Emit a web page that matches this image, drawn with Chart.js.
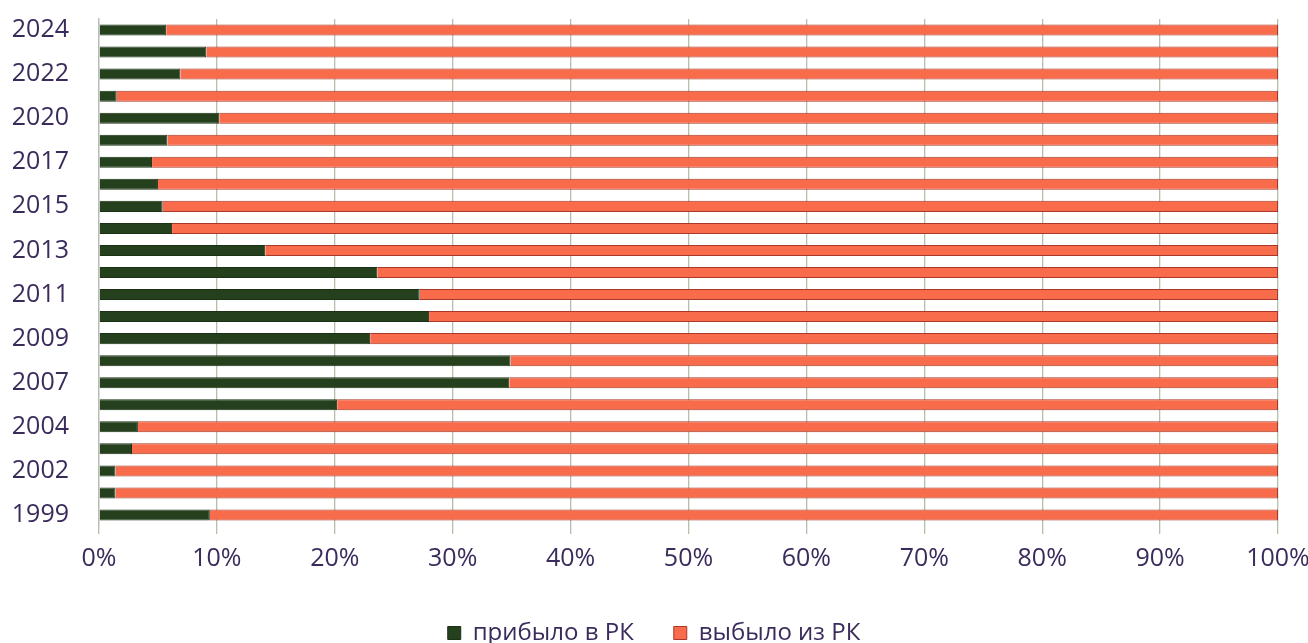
<!DOCTYPE html>
<html>
<head>
<meta charset="utf-8">
<script src="https://cdn.jsdelivr.net/npm/chart.js@4/dist/chart.umd.min.js"></script>
<style>
  html, body { margin: 0; padding: 0; background: #ffffff; }
  #wrap { width: 1308px; height: 643px; position: relative; }
</style>
</head>
<body>
<div id="wrap"><canvas id="migrationChart"></canvas></div>
<script>
// years, bottom to top
const years = ['1999', '2000', '2002', '2003', '2004', '2005', '2007', '2008', '2009', '2010', '2011', '2012',
    '2013', '2014', '2015', '2016', '2017', '2018', '2020', '2021', '2022', '2023', '2024'];

// share of arrivals, %
const arrived = [9.4, 1.4, 1.4, 2.8, 3.3, 20.2, 34.8, 34.9, 23.0, 28.0, 27.2, 23.6,
    14.1, 6.2, 5.4, 5.0, 4.5, 5.8, 10.2, 1.5, 6.9, 9.1, 5.7];

// share of departures, %
const departed = [90.6, 98.6, 98.6, 97.2, 96.7, 79.8, 65.2, 65.1, 77.0, 72.0, 72.8, 76.4,
    85.9, 93.8, 94.6, 95.0, 95.5, 94.2, 89.8, 98.5, 93.1, 90.9, 94.3];

const xTicks = [0, 10, 20, 30, 40, 50, 60, 70, 80, 90, 100];

const textColor = '#3b2b5c';
const font = { family: "'Open Sans', 'Noto Sans', sans-serif", size: 25 };

function initChart() {
    const ctx = document.getElementById('migrationChart');
    if (!ctx) return;

    new Chart(ctx, {
        type: 'bar',
        data: {
            labels: years,
            datasets: [{
                label: 'прибыло в РК',
                data: arrived,
                backgroundColor: '#24401d',
                borderColor: '#1b3015',
                borderWidth: 1,
                barPercentage: 0.5,
                categoryPercentage: 1
            }, {
                label: 'выбыло из РК',
                data: departed,
                backgroundColor: '#f86b4b',
                borderColor: '#a8382a',
                borderWidth: 1,
                barPercentage: 0.5,
                categoryPercentage: 1
            }]
        },
        options: {
            indexAxis: 'y',
            responsive: true,
            maintainAspectRatio: false,
            animation: false,
            layout: {
                padding: { top: 19, right: 0, left: 0, bottom: -12 }
            },
            plugins: {
                legend: {
                    position: 'bottom',
                    labels: {
                        color: textColor,
                        font: { family: font.family, size: 24 },
                        boxWidth: 13,
                        boxHeight: 13,
                        padding: 40,
                        useBorderRadius: false
                    }
                },
                tooltip: { enabled: false }
            },
            scales: {
                x: {
                    stacked: true,
                    min: 0,
                    max: 100,
                    afterBuildTicks: (scale) => {
                        scale.ticks = xTicks.map(v => ({ value: v }));
                    },
                    afterFit: (scale) => {
                        scale.height = 55;
                        scale.paddingLeft = 0;
                        scale.paddingRight = 30;
                    },
                    ticks: {
                        color: textColor,
                        font: font,
                        padding: 10,
                        callback: (v) => v + '%'
                    },
                    grid: {
                        color: '#b3c0aa',
                        lineWidth: 1.3,
                        tickLength: 8
                    },
                    border: { display: false }
                },
                y: {
                    stacked: true,
                    reverse: true,
                    afterFit: (scale) => {
                        scale.width = 99;
                        scale.paddingTop = 0;
                        scale.paddingBottom = 0;
                    },
                    ticks: {
                        color: textColor,
                        font: font,
                        padding: 22,
                        autoSkip: false,
                        callback: function (v, i) {
                            return i % 2 === 0 ? this.getLabelForValue(v) : '';
                        }
                    },
                    grid: { display: false },
                    border: { display: true, color: '#b8bdb4', width: 1.3 }
                }
            }
        }
    });
}

initChart();
</script>
</body>
</html>
